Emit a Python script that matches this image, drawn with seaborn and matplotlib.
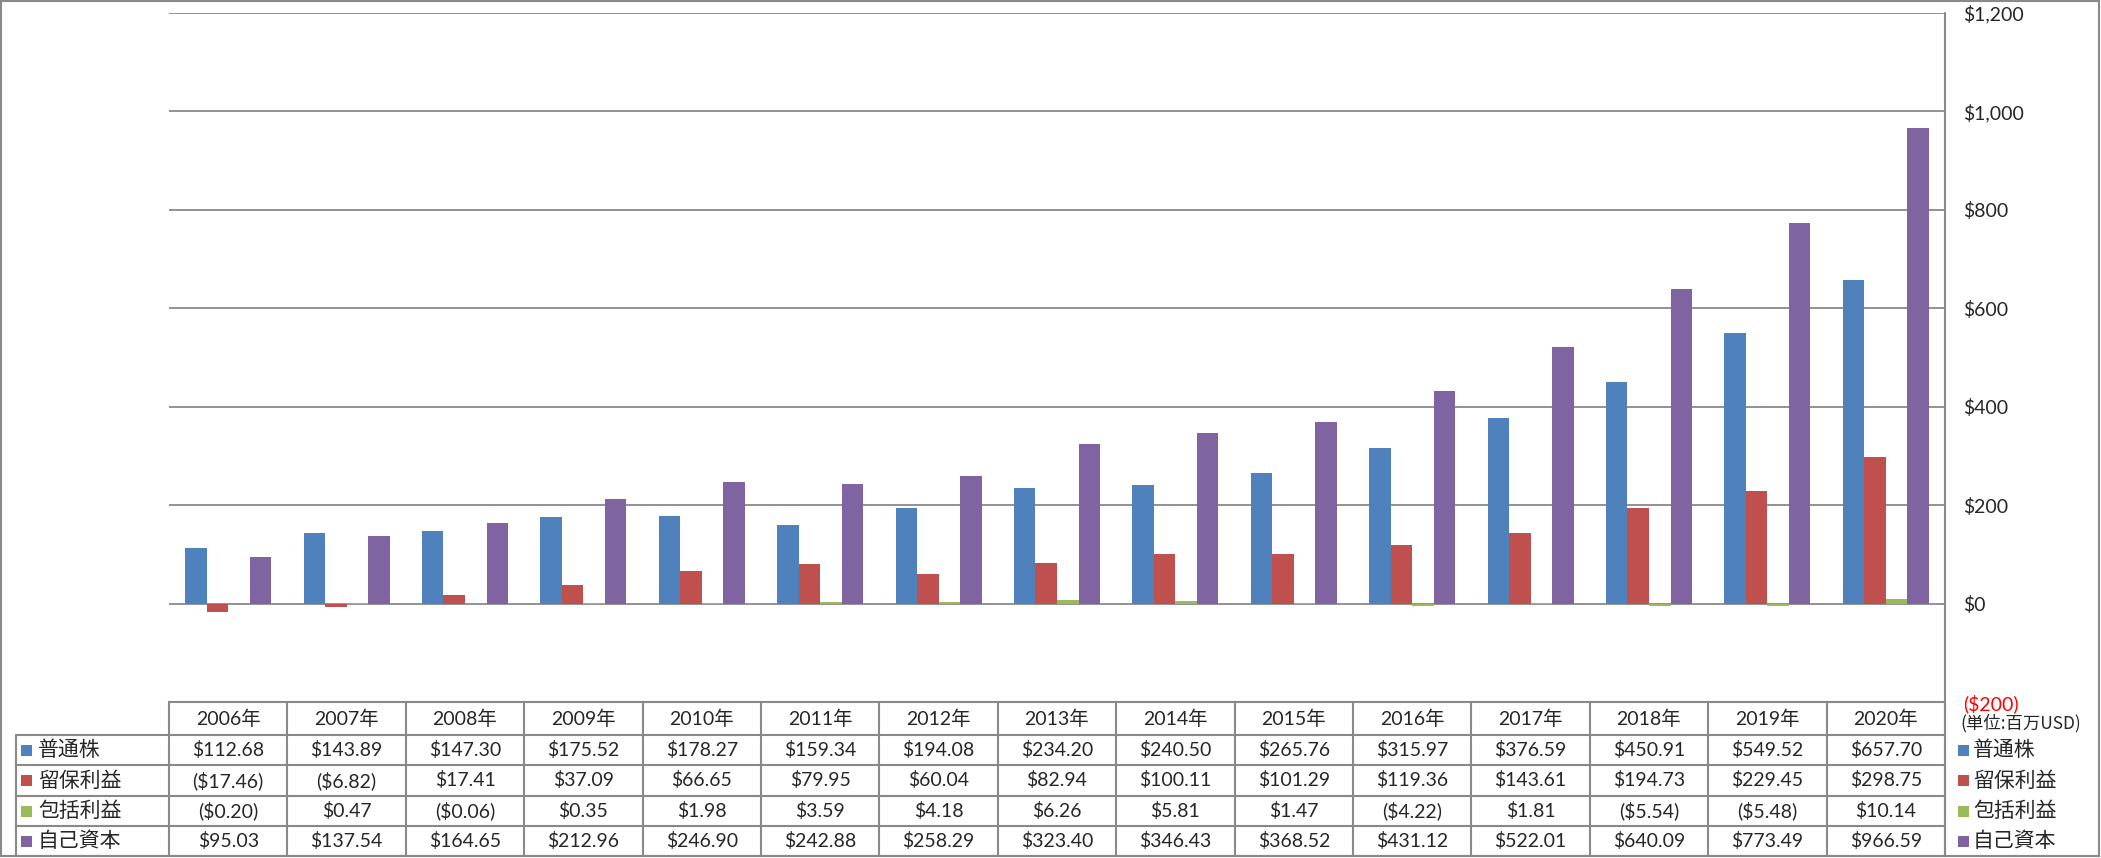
import numpy as np
import pandas as pd
import matplotlib
matplotlib.use("Agg")
import matplotlib.pyplot as plt
import matplotlib.ticker as ticker
from matplotlib.patches import Rectangle
import seaborn as sns

years = ["2006年", "2007年", "2008年", "2009年", "2010年", "2011年", "2012年", "2013年",
         "2014年", "2015年", "2016年", "2017年", "2018年", "2019年", "2020年"]
series_names = ["普通株", "留保利益", "包括利益", "自己資本"]
common_stock = [112.68, 143.89, 147.30, 175.52, 178.27, 159.34, 194.08, 234.20,
                240.50, 265.76, 315.97, 376.59, 450.91, 549.52, 657.70]
retained = [-17.46, -6.82, 17.41, 37.09, 66.65, 79.95, 60.04, 82.94,
            100.11, 101.29, 119.36, 143.61, 194.73, 229.45, 298.75]
comprehensive = [-0.20, 0.47, -0.06, 0.35, 1.98, 3.59, 4.18, 6.26,
                 5.81, 1.47, -4.22, 1.81, -5.54, -5.48, 10.14]
equity = [95.03, 137.54, 164.65, 212.96, 246.90, 242.88, 258.29, 323.40,
          346.43, 368.52, 431.12, 522.01, 640.09, 773.49, 966.59]
y_ticks = [-200, 0, 200, 400, 600, 800, 1000, 1200]
colors = ["#4F81BD", "#C0504D", "#9BBB59", "#8064A2"]
unit_label = "(単位:百万USD)"

W, H = 2101, 858
GRAY = "#898989"

sns.set_theme(style="white")
plt.rcParams["font.family"] = ["Lato", "Noto Sans CJK JP", "DejaVu Sans"]


def money(v):
    return f"(${-v:,.2f})" if v < 0 else f"${v:,.2f}"


def main():
    values = [common_stock, retained, comprehensive, equity]
    df = pd.DataFrame({
        "year": np.tile(years, len(series_names)),
        "series": np.repeat(series_names, len(years)),
        "value": np.concatenate(values),
    })

    fig = plt.figure(figsize=(W / 100, H / 100), dpi=100)
    # plot area in pixels: x 169..1945, y 13..702
    x0, x1, y0, y1 = 169, 1945, 13, 702
    ax = fig.add_axes([x0 / W, (H - y1) / H, (x1 - x0) / W, (y1 - y0) / H])
    sns.barplot(data=df, x="year", y="value", hue="series", order=years,
                hue_order=series_names, palette=colors, saturation=1,
                width=0.727, linewidth=0, errorbar=None, legend=False, ax=ax)
    ax.set_xlim(-0.5, len(years) - 0.5)
    ax.set_ylim(-200, 1200)
    ax.set_yticks(y_ticks)
    ax.yaxis.tick_right()
    ax.yaxis.set_major_formatter(ticker.FuncFormatter(
        lambda v, p: f"(${-v:,.0f})" if v < 0 else f"${v:,.0f}"))
    ax.tick_params(axis="y", length=0, pad=13, labelsize=14)
    for lab, v in zip(ax.get_yticklabels(), y_ticks):
        if v < 0:
            lab.set_color("red")
    ax.set_xticks([])
    ax.set_xlabel("")
    ax.set_ylabel("")
    ax.grid(axis="y", color=GRAY, linewidth=1.3)
    ax.set_axisbelow(True)
    for s in ax.spines.values():
        s.set_visible(False)

    # overlay in pixel coordinates for the data table and frame
    ov = fig.add_axes([0, 0, 1, 1], zorder=5)
    ov.set_xlim(0, W)
    ov.set_ylim(H, 0)
    ov.axis("off")
    ov.patch.set_alpha(0)

    ov.add_patch(Rectangle((1, 1), W - 3, H - 3, fill=False, edgecolor=GRAY, lw=1.5))
    ov.plot([x1, x1], [y0, H - 2], color=GRAY, lw=1.5)

    col_w = (x1 - x0) / len(years)
    row_y = [702, 735, 765, 796, 826, 856]
    lab_x = 16
    ov.plot([x0, x1], [row_y[0], row_y[0]], color=GRAY, lw=1.5)
    for y in row_y[1:]:
        ov.plot([lab_x, x1], [y, y], color=GRAY, lw=1.5)
    for k in range(len(years) + 1):
        ov.plot([x0 + k * col_w] * 2, [row_y[0], row_y[-1]], color=GRAY, lw=1.5)
    ov.plot([lab_x, lab_x], [row_y[1], row_y[-1]], color=GRAY, lw=1.5)

    hy = (row_y[0] + row_y[1]) / 2
    for k, yr in enumerate(years):
        ov.text(x0 + (k + 0.5) * col_w, hy, yr, ha="center", va="center", fontsize=14)

    for r, (name, vals, c) in enumerate(zip(series_names, values, colors)):
        cy = (row_y[r + 1] + row_y[r + 2]) / 2
        ov.add_patch(Rectangle((21, cy - 5.5), 11, 11, color=c, lw=0))
        ov.text(38, cy, name, ha="left", va="center", fontsize=15)
        for k, v in enumerate(vals):
            ov.text(x0 + (k + 0.5) * col_w, cy, money(v), ha="center", va="center",
                    fontsize=14)
        # right-hand legend
        ov.add_patch(Rectangle((1958, cy - 5.5), 11, 11, color=c, lw=0))
        ov.text(1973, cy, name, ha="left", va="center", fontsize=15)

    ov.text(1960, 723, unit_label, ha="left", va="center", fontsize=12.5,
            family=["Noto Sans CJK JP", "DejaVu Sans"])

    fig.savefig("out.png", dpi=100)


if __name__ == "__main__":
    main()
